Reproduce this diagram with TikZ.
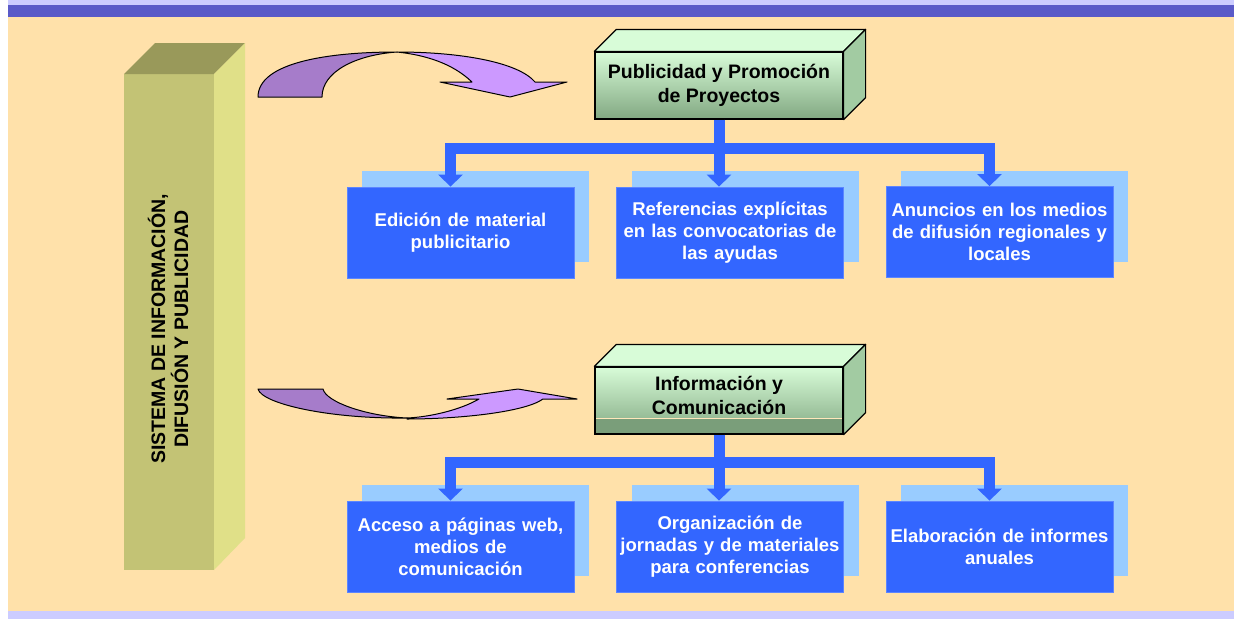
\documentclass[tikz,border=0pt]{standalone}
\usepackage{fontspec}
\setmainfont{Liberation Sans}
\usetikzlibrary{arrows.meta,shadows}

\definecolor{beige}{HTML}{FFE1AA}
\definecolor{lavender}{HTML}{CCCCFF}
\definecolor{bandblue}{HTML}{5A5AC8}
\definecolor{olivefront}{HTML}{C3C375}
\definecolor{olivetop}{HTML}{99995A}
\definecolor{oliveside}{HTML}{E0E088}
\definecolor{greenlight}{HTML}{D8FCD8}
\definecolor{greendark}{HTML}{82A882}
\definecolor{greenband}{HTML}{7A9E7A}
\definecolor{greenside}{HTML}{A2CBA2}
\definecolor{boxblue}{HTML}{3366FF}
\definecolor{shadowblue}{HTML}{99CCFF}
\definecolor{plumdark}{HTML}{A67CCA}
\definecolor{plumlight}{HTML}{CC99FF}

\begin{document}
\begin{tikzpicture}[x=1pt,y=-1pt,
      >={Triangle[width=24pt,length=12pt]},
      item/.style={fill=boxblue,draw=boxblue!80!white,line width=0.8pt,
            text=white,font=\bfseries\fontsize{18.5}{22}\selectfont,
            align=center,text width=225pt,inner sep=0pt,
            minimum width=227,minimum height=91,
            general shadow={fill=shadowblue,shadow xshift=15pt,shadow yshift=16pt}},
      header/.style={draw=black,line width=1.2pt,
            top color=greenlight,bottom color=greendark,
            font=\bfseries\fontsize{19.5}{24}\selectfont,align=center,
            inner sep=0pt,minimum width=248,minimum height=67},
      link/.style={boxblue,line width=11pt}]

      \useasboundingbox (0,0) rectangle (1234,619);
      \fill[white] (0,0) rectangle (1234,619);
      \fill[lavender] (8,0) rectangle (1234,5);
      \fill[bandblue] (8,5) rectangle (1234,17);
      \fill[beige] (8,17) rectangle (1234,611);
      \fill[lavender] (8,611) rectangle (1234,619);

      % pillar
      \fill[olivefront] (124,74) rectangle (214,570);
      \fill[olivetop] (124,74) -- (155,43) -- (245,43) -- (214,74) -- cycle;
      \fill[oliveside] (214,74) -- (245,43) -- (245,538) -- (214,570) -- cycle;
      \node[rotate=90,align=center,font=\bfseries\fontsize{19.5}{23}\selectfont]
            (title) at (168,329) {SISTEMA DE INFORMACIÓN,\\DIFUSIÓN Y PUBLICIDAD};

      % curved arrows
      \filldraw[fill=plumlight,line width=1pt,line join=round]
            (397,52) .. controls (460,52) and (518,62) .. (535,82)
            -- (567,82) -- (510,97) -- (440,82) -- (472,82)
            .. controls (452,63) and (425,55) .. (397,52) -- cycle;
      \filldraw[fill=plumdark,line width=1pt,line join=round]
            (258,97) .. controls (258,62) and (330,52) .. (397,52)
            .. controls (355,55) and (322,72) .. (322,97) -- cycle;
      \filldraw[fill=plumlight,line width=1pt,line join=round]
            (407,419) .. controls (460,419) and (525,412) .. (543,399)
            -- (577,399) -- (518,389) -- (447,399) -- (479,399)
            .. controls (460,410) and (430,417) .. (407,418) -- cycle;
      \filldraw[fill=plumdark,line width=1pt,line join=round]
            (258,389) -- (323,389)
            .. controls (326,402) and (366,416) .. (407,418)
            .. controls (330,419) and (262,404) .. (258,389) -- cycle;

      % headers
      \node[header] (pub) at (719,85.5) {Publicidad y Promoción\\de Proyectos};
      \node[header,text depth=11pt,path picture={
            \fill[greenband] (path picture bounding box.south west)
                  rectangle ([yshift=16pt]path picture bounding box.south east);
            \draw[line width=1pt,beige!80!white]
                  ([yshift=16pt]path picture bounding box.south west)
                  -- ([yshift=16pt]path picture bounding box.south east);}]
            (info) at (719,400.5) {Información y\\Comunicación};
      \foreach \b in {pub,info} {
            \filldraw[fill=greenlight,line width=1.2pt,line join=round]
                  (\b.north west) -- ([xshift=22,yshift=22]\b.north west)
                  -- ([xshift=22,yshift=22]\b.north east) -- (\b.north east) -- cycle;
            \filldraw[fill=greenside,line width=1.2pt,line join=round]
                  (\b.north east) -- ([xshift=22,yshift=22]\b.north east)
                  -- ([xshift=22,yshift=22]\b.south east) -- (\b.south east) -- cycle;
      }

      % boxes
      \node[item] (edit) at (460.5,232.5) {Edición de material\\publicitario};
      \node[item] (refs) at (730,232.5)
            {Referencias explícitas\\en las convocatorias de\\las ayudas};
      \node[item] (ads) at (999.5,232)
            {Anuncios en los medios\\de difusión regionales y\\locales};
      \node[item] (web) at (460.5,546.5)
            {Acceso a páginas web,\\medios de\\comunicación};
      \node[item] (conf) at (730,546.5)
            {Organización de\\jornadas y de materiales\\para conferencias};
      \node[item] (rep) at (999.5,546.5) {Elaboración de informes\\anuales};

      % links
      \coordinate (bar1) at (719,148);
      \coordinate (bar2) at (719,462);
      \draw[link,<->] ([xshift=-10]edit.north) |- (bar1) -| ([xshift=-10]ads.north);
      \draw[link,->] (pub.south) -- (pub.south |- refs.north);
      \draw[link,<->] ([xshift=-10]web.north) |- (bar2) -| ([xshift=-10]rep.north);
      \draw[link,->] (info.south) -- (info.south |- conf.north);
\end{tikzpicture}
\end{document}
